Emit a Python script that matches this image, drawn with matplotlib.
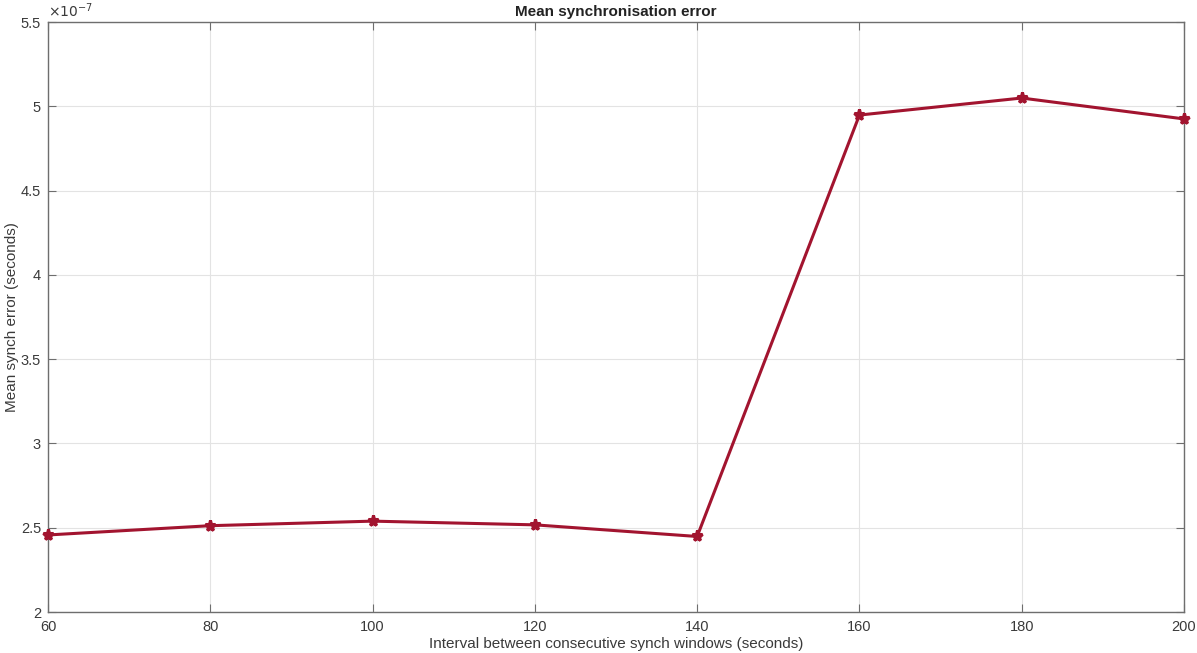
import matplotlib
matplotlib.use("Agg")
import matplotlib.pyplot as plt
from matplotlib.ticker import FuncFormatter

plt.rcParams['font.family'] = ['Liberation Sans', 'DejaVu Sans']

intervals = [60, 80, 100, 120, 140, 160, 180, 200]
mean_error = [2.457e-7, 2.512e-7, 2.539e-7, 2.517e-7, 2.448e-7, 4.948e-7, 5.049e-7, 4.925e-7]

x_ticks = [60, 80, 100, 120, 140, 160, 180, 200]
y_ticks = [2e-7, 2.5e-7, 3e-7, 3.5e-7, 4e-7, 4.5e-7, 5e-7, 5.5e-7]
y_exponent = -7

axis_grey = '#6e6e6e'
text_grey = '#3a3a3a'

fig = plt.figure(figsize=(11.97, 6.53), dpi=100)
ax = fig.add_axes([48 / 1197, 1 - 612 / 653, (1184 - 48) / 1197, (612 - 22) / 653])

ax.plot(intervals, mean_error, color='#A2142F', linewidth=2.2, marker='*',
        markersize=8, markeredgewidth=2.2, markeredgecolor='#A2142F',
        markerfacecolor='#A2142F', zorder=3, clip_on=False)

ax.set_xlim(60, 200)
ax.set_ylim(2e-7, 5.5e-7)
ax.set_xticks(x_ticks)
ax.set_yticks(y_ticks)

scale = 10.0 ** y_exponent
ax.yaxis.set_major_formatter(FuncFormatter(lambda v, pos: f'{v / scale:g}'))
ax.text(0.0, 1.003, rf'$\times10^{{{y_exponent}}}$', transform=ax.transAxes,
        ha='left', va='bottom', fontsize=10, color=text_grey)

ax.grid(True, color='#e3e3e3', linewidth=0.8)
ax.set_axisbelow(True)

for side in ax.spines.values():
    side.set_color(axis_grey)
    side.set_linewidth(1.0)

ax.tick_params(direction='in', length=6, width=0.8, color=axis_grey,
               labelcolor=text_grey, labelsize=10.5,
               top=True, right=True)
ax.tick_params(axis='x', pad=6)
ax.tick_params(axis='y', pad=5)

ax.set_title('Mean synchronisation error', fontsize=11, fontweight='bold',
             color='#222222', pad=4)
ax.set_xlabel('Interval between consecutive synch windows (seconds)',
              fontsize=11, color=text_grey, labelpad=2)
ax.set_ylabel('Mean synch error (seconds)', fontsize=11, color=text_grey)
ax.yaxis.set_label_coords(-0.0255, 0.5)

fig.savefig('out.png', dpi=100)
